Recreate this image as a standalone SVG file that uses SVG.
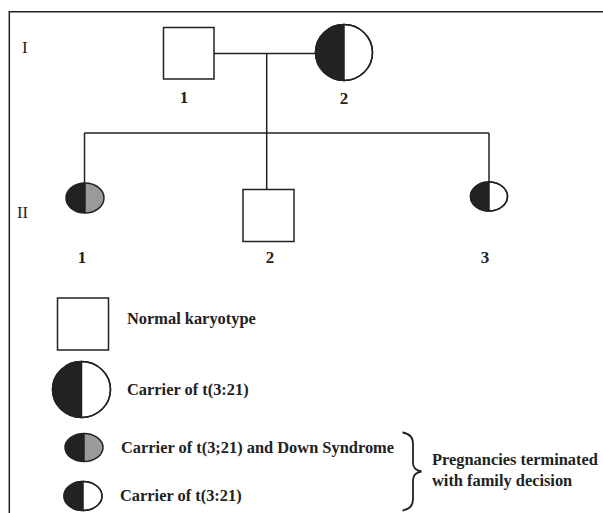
<svg xmlns="http://www.w3.org/2000/svg" width="603" height="513" viewBox="0 0 603 513">
<style>
.ln{stroke:#222;stroke-width:1.5;fill:none}
.sh{stroke:#222;stroke-width:1.5;fill:#fff}
.blk{fill:#222}
.gry{fill:#9a9a9a}
.t{font-family:"Liberation Serif","Times New Roman",serif;font-weight:bold;font-size:16.4px;fill:#222}
.n{font-size:17px}
.g{font-family:"Liberation Serif","Times New Roman",serif;font-size:17px;fill:#222}
.c{text-anchor:middle}
</style>
<rect width="603" height="513" fill="#fff"/>
<path class="ln" d="M9.3 513 V11.7 H603"/>
<text class="g" x="22" y="53">I</text>
<text class="g" x="17" y="218" textLength="11" lengthAdjust="spacingAndGlyphs">II</text>
<g id="connectors">
<path class="ln" d="M214 53.5 H315.5"/>
<path class="ln" d="M266.7 53.5 V133"/>
<path class="ln" d="M84.5 133 H489"/>
<path class="ln" d="M84.5 133 V183"/>
<path class="ln" d="M266.7 133 V189.5"/>
<path class="ln" d="M489 133 V182"/>
</g>
<g id="I-1">
<rect class="sh" x="163.5" y="27.5" width="50.5" height="51.5"/>
<text class="t n c" x="184" y="103">1</text>
</g>
<g id="I-2">
<ellipse class="sh" cx="344" cy="52.5" rx="28.5" ry="28"/>
<path class="blk" d="M344 24.5 A28.5 28 0 0 0 344 80.5 Z"/>
<ellipse class="ln" cx="344" cy="52.5" rx="28.5" ry="28"/>
<path class="ln" d="M344 24.5 V80.5"/>
<text class="t n c" x="344" y="104">2</text>
</g>
<g id="II-1">
<ellipse class="gry" cx="85" cy="198" rx="19" ry="15"/>
<path class="blk" d="M85 183 A19 15 0 0 0 85 213 Z"/>
<ellipse class="ln" cx="85" cy="198" rx="19" ry="15"/>
<path class="ln" d="M85 183 V213"/>
<text class="t n c" x="82" y="263">1</text>
</g>
<g id="II-2">
<rect class="sh" x="243" y="189.5" width="51" height="52"/>
<text class="t n c" x="270" y="263">2</text>
</g>
<g id="II-3">
<ellipse class="sh" cx="489" cy="196.5" rx="18.5" ry="14.5"/>
<path class="blk" d="M489 182 A18.5 14.5 0 0 0 489 211 Z"/>
<ellipse class="ln" cx="489" cy="196.5" rx="18.5" ry="14.5"/>
<path class="ln" d="M489 182 V211"/>
<text class="t n c" x="485" y="263">3</text>
</g>
<g id="legend-normal">
<rect class="sh" x="57.5" y="298" width="51" height="52"/>
<text class="t" x="127" y="324">Normal karyotype</text>
</g>
<g id="legend-carrier">
<ellipse class="sh" cx="81.5" cy="389.5" rx="29" ry="28"/>
<path class="blk" d="M81.5 361.5 A29 28 0 0 0 81.5 417.5 Z"/>
<ellipse class="ln" cx="81.5" cy="389.5" rx="29" ry="28"/>
<path class="ln" d="M81.5 361.5 V417.5"/>
<text class="t" x="127" y="395">Carrier of t(3:21)</text>
</g>
<g id="legend-down">
<ellipse class="gry" cx="84" cy="447.5" rx="19" ry="14"/>
<path class="blk" d="M84 433.5 A19 14 0 0 0 84 461.5 Z"/>
<ellipse class="ln" cx="84" cy="447.5" rx="19" ry="14"/>
<path class="ln" d="M84 433.5 V461.5"/>
<text class="t" x="121" y="453">Carrier of t(3;21) and Down Syndrome</text>
</g>
<g id="legend-carrier-small">
<ellipse class="sh" cx="83" cy="496" rx="19" ry="14.5"/>
<path class="blk" d="M83 481.5 A19 14.5 0 0 0 83 510.5 Z"/>
<ellipse class="ln" cx="83" cy="496" rx="19" ry="14.5"/>
<path class="ln" d="M83 481.5 V510.5"/>
<text class="t" x="120" y="501">Carrier of t(3:21)</text>
</g>
<g id="brace">
<path class="ln" style="stroke-width:1.8" d="M402.5 432.5 Q413 434 413 444 V463 Q413 470 421.5 471.5 Q413 473 413 480 V499 Q413 509 402.5 510.5"/>
<text class="t" x="432" y="465">Pregnancies terminated</text>
<text class="t" x="432" y="486">with family decision</text>
</g>
</svg>
